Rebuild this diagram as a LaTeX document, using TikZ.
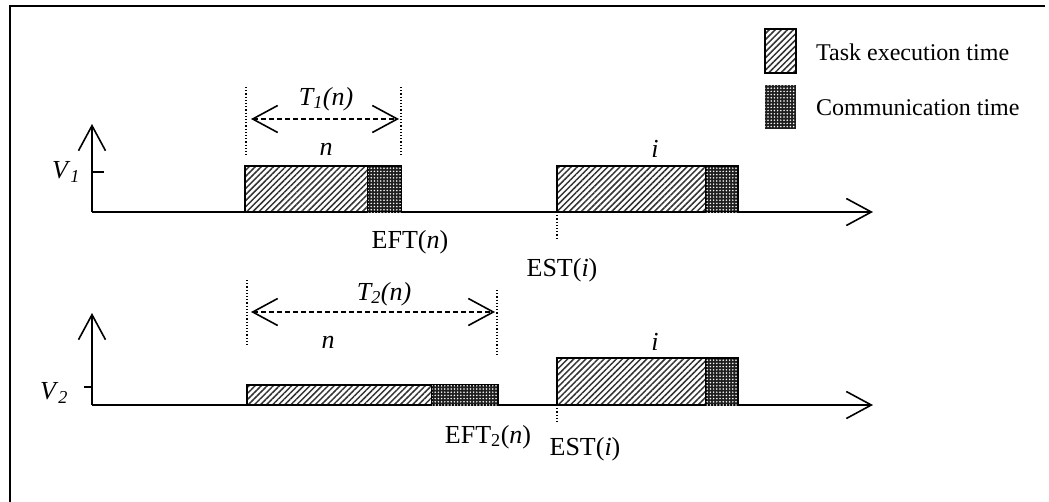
\documentclass[tikz,border=0pt]{standalone}
\usepackage{fontspec}
\setmainfont{Liberation Serif}
\usetikzlibrary{arrows.meta,patterns.meta}
\tikzset{
  axisline/.style={line width=2.2pt,-{Straight Barb[length=25pt,width=27pt,line width=1.6pt]}},
  spanarrow/.style={line width=1.6pt,dash pattern=on 5pt off 3pt,{Straight Barb[length=25pt,width=27pt,line width=1.6pt]}-{Straight Barb[length=25pt,width=27pt,line width=1.6pt]}},
  guide/.style={line width=1.2pt,dotted},
  hatch/.style={pattern={Lines[angle=45,distance=4.3pt,line width=1.5pt]},pattern color=black!80},
  taskbox/.style={draw=black,line width=1.5pt,hatch},
  dots/.style={fill=black!88,postaction={pattern={Dots[distance=3.2pt,radius=0.85pt]},pattern color=white}},
  commbox/.style={draw=black,line width=1.5pt,dots},
  lbl/.style={font=\fontsize{26}{30}\selectfont,inner sep=0pt},
  keylbl/.style={font=\fontsize{24}{28}\selectfont,inner sep=0pt,anchor=west},
}
\begin{document}
\begin{tikzpicture}[x=1pt,y=-1pt]
\useasboundingbox (0,0) rectangle (1049,501);
% frame (left and top edges)
\draw[line width=2.6pt] (10,505) -- (10,6) -- (1045,6);
% legend
\draw[line width=2pt,hatch] (765,29) rectangle (796,73);
\path[dots] (765,85) rectangle (796,129);
\node[keylbl] (ktask) at (816,52) {Task execution time};
\node[keylbl] (kcomm) at (816,108) {Communication time};

% ---------- V1 ----------
\coordinate (o1) at (92,212);
\coordinate (y1) at (92,124);
\coordinate (x1) at (873,212);
\draw[axisline] (o1) -- (y1);
\draw[axisline] (o1) -- (x1);
\draw[line width=1.6pt] (92,172) -- (104,172);
\node[lbl] (v1) at (66,172) {\textit{V}\textsubscript{\textit{1}}};
\draw[taskbox] (245,166) rectangle (368,212);
\draw[commbox] (368,166) rectangle (401,212);
\draw[taskbox] (557,166) rectangle (706,212);
\draw[commbox] (706,166) rectangle (738,212);
\coordinate (d1a) at (246,87);
\coordinate (d1b) at (246,156);
\coordinate (d1c) at (401,87);
\coordinate (d1d) at (401,156);
\draw[guide] (d1a) -- (d1b);
\draw[guide] (d1c) -- (d1d);
\coordinate (a1l) at (251,119);
\coordinate (a1r) at (399,119);
\draw[spanarrow] (a1l) -- (a1r);
\node[lbl] (t1) at (326,99) {\textit{T\textsubscript{1}(n)}};
\node[lbl] (n1) at (326,149) {\textit{n}};
\node[lbl] (i1) at (655,149) {\textit{i}};
\coordinate (e1a) at (557,212);
\coordinate (e1b) at (557,238);
\draw[guide] (e1a) -- (e1b);
\node[lbl] (eft1) at (410,242) {EFT(\textit{n})};
\node[lbl] (est1) at (562,270) {EST(\textit{i})};

% ---------- V2 ----------
\coordinate (o2) at (92,405);
\coordinate (y2) at (92,313);
\coordinate (x2) at (873,405);
\draw[axisline] (o2) -- (y2);
\draw[axisline] (o2) -- (x2);
\draw[line width=1.6pt] (84,387) -- (92,387);
\node[lbl] (v2) at (54,393) {\textit{V}\textsubscript{\textit{2}}};
\draw[taskbox] (247,385) rectangle (432,405);
\draw[commbox] (432,385) rectangle (498,405);
\draw[taskbox] (557,358) rectangle (706,405);
\draw[commbox] (706,358) rectangle (738,405);
\coordinate (d2a) at (247,280);
\coordinate (d2b) at (247,347);
\coordinate (d2c) at (497,290);
\coordinate (d2d) at (497,357);
\draw[guide] (d2a) -- (d2b);
\draw[guide] (d2c) -- (d2d);
\coordinate (a2l) at (251,312);
\coordinate (a2r) at (495,312);
\draw[spanarrow] (a2l) -- (a2r);
\node[lbl] (t2) at (384,294) {\textit{T\textsubscript{2}(n)}};
\node[lbl] (n2) at (328,342) {\textit{n}};
\node[lbl] (i2) at (655,342) {\textit{i}};
\coordinate (e2a) at (557,405);
\coordinate (e2b) at (557,423);
\draw[guide] (e2a) -- (e2b);
\node[lbl] (eft2) at (488,437) {EFT\textsubscript{2}(\textit{n})};
\node[lbl] (est2) at (585,449) {EST(\textit{i})};
\end{tikzpicture}
\end{document}
